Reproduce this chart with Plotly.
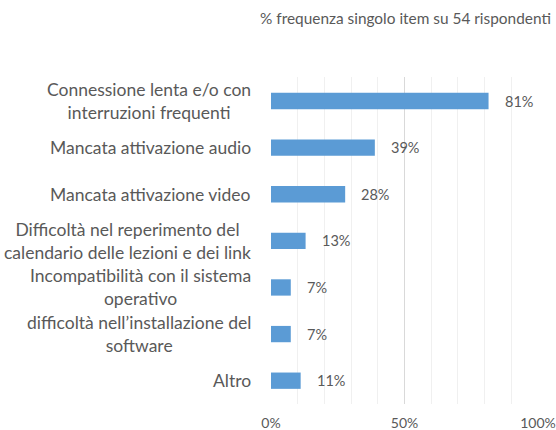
import plotly.graph_objects as go

categories = [
    "Connessione lenta e/o con<br>interruzioni frequenti",
    "Mancata attivazione audio",
    "Mancata attivazione video",
    "Difficoltà nel reperimento del<br>calendario delle lezioni e dei link",
    "Incompatibilità con il sistema<br>operativo",
    "difficoltà nell’installazione del<br>software",
    "Altro",
]
values = [81.48, 38.89, 27.78, 12.96, 7.41, 7.41, 11.11]
x_ticks = [0, 50, 100]
x_tick_labels = ["0%", "50%", "100%"]
title_text = "% frequenza singolo item su 54 rispondenti"

FONT = "Lato, 'Open Sans', sans-serif"
GREY = "#595959"

fig = go.Figure(
    go.Bar(
        x=values,
        y=categories,
        orientation="h",
        marker=dict(color="#5b9bd5", line=dict(width=0)),
        hoverinfo="skip",
    )
)

annotations = []
for c, v in zip(categories, values):
    annotations.append(dict(
        x=v, y=c, xref="x", yref="y", text=f"{round(v)}%",
        xanchor="left", yanchor="middle", xshift=14, showarrow=False,
        font=dict(family=FONT, size=14.5, color=GREY),
    ))
    annotations.append(dict(
        x=0, y=c, xref="paper", yref="y", text=c,
        xanchor="right", yanchor="middle", xshift=-18, showarrow=False,
        align="center", font=dict(family=FONT, size=17.5, color=GREY),
    ))
annotations.append(dict(
    x=1, y=1, xref="paper", yref="paper", text=title_text,
    xanchor="right", yanchor="top", xshift=15, yshift=70, showarrow=False,
    font=dict(family=FONT, size=15.4, color=GREY),
))

fig.update_layout(
    width=556, height=430,
    margin=dict(l=271, r=18, t=77, b=26, autoexpand=False),
    paper_bgcolor="white", plot_bgcolor="white",
    bargap=0.65,
    showlegend=False,
    annotations=annotations,
    xaxis=dict(
        range=[0, 100], tickvals=x_ticks, ticktext=x_tick_labels,
        showgrid=True, gridcolor="#d9d9d9", gridwidth=1.5,
        minor=dict(dtick=10, tick0=0, showgrid=True, gridcolor="#f0f0f0", gridwidth=1),
        zeroline=False, showline=False, fixedrange=True, automargin=False,
        tickfont=dict(family=FONT, size=14, color=GREY),
        ticks="outside", ticklen=6, tickcolor="rgba(0,0,0,0)",
    ),
    yaxis=dict(
        categoryorder="array", categoryarray=categories[::-1],
        showticklabels=False, showgrid=False, zeroline=False,
        showline=False, fixedrange=True, automargin=False,
    ),
)

fig.write_html(
    "out.html",
    config={"displayModeBar": False, "staticPlot": True},
    post_script="document.body.style.margin='0';document.body.style.overflow='hidden';",
)
